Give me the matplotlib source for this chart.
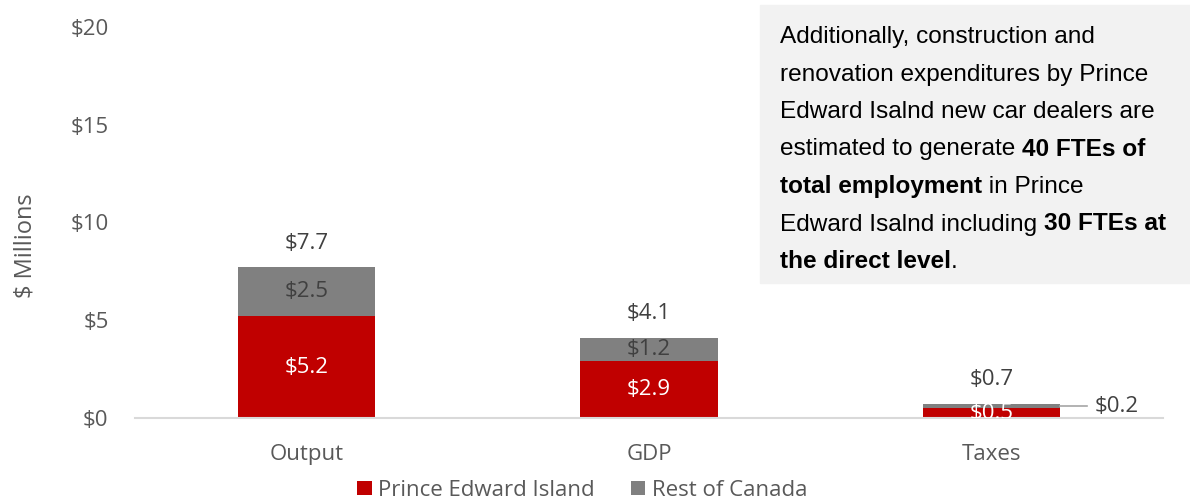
import matplotlib.pyplot as plt
import numpy as np

categories = ["Output", "GDP", "Taxes"]
pei = [5.2, 2.9, 0.5]
rest_of_canada = [2.5, 1.2, 0.2]
totals = [7.7, 4.1, 0.7]
yticks = [0, 5, 10, 15, 20]

RED = "#C00000"
GREY = "#808080"
TXT = "#595959"
FS = 16

plt.rcParams["font.family"] = ["Open Sans", "DejaVu Sans"]

W, H = 1190, 503
fig = plt.figure(figsize=(W / 100, H / 100), dpi=100)
ax = fig.add_axes([135 / W, 1 - 418 / H, 1028 / W, 391 / H])

x = np.arange(len(categories))
w = 0.4
ax.bar(x, pei, w, color=RED, label="Prince Edward Island", zorder=2)
ax.bar(x, rest_of_canada, w, bottom=pei, color=GREY, label="Rest of Canada", zorder=2)

ax.set_xlim(-0.5, 2.5)
ax.set_ylim(0, 20)
ax.set_yticks(yticks)
ax.set_yticklabels([f"${v}" for v in yticks])
ax.set_xticks(x)
ax.set_xticklabels(categories)
ax.tick_params(axis="both", length=0, labelsize=FS, labelcolor=TXT)
ax.tick_params(axis="x", pad=19)
ax.tick_params(axis="y", pad=19)
for s in ["top", "right", "left"]:
    ax.spines[s].set_visible(False)
ax.spines["bottom"].set_color("#D9D9D9")
ax.spines["bottom"].set_linewidth(1.5)

ax.set_ylabel("$ Millions", fontsize=17, color=TXT)
ax.yaxis.set_label_coords(-0.095, 0.44)

# value labels on the stacked segments
for i in range(len(categories)):
    t = ax.text(x[i], pei[i] / 2, f"${pei[i]}", ha="center", va="center",
                color="white", fontsize=FS, zorder=3)
    t.set_clip_on(True)
    if i < 2:
        ax.text(x[i], pei[i] + rest_of_canada[i] / 2, f"${rest_of_canada[i]}",
                ha="center", va="center", color="#404040", fontsize=FS, zorder=3)
    ax.annotate(f"${totals[i]}", (x[i], totals[i]), xytext=(0, 10),
                textcoords="offset points", ha="center", va="bottom",
                color="#404040", fontsize=FS)

# leader line for the small taxes segment
y_small = pei[2] + rest_of_canada[2] / 2
ax.plot([x[2] + w / 2, x[2] + 0.278], [y_small, y_small], color="#A6A6A6", lw=1.2,
        clip_on=False)
ax.text(x[2] + 0.300, y_small, f"${rest_of_canada[2]}", ha="left", va="center",
        color="#404040", fontsize=FS)

ax.legend(loc="center", bbox_to_anchor=(0.435, -0.185), ncol=2, frameon=False,
          fontsize=FS, labelcolor=TXT, handlelength=0.65, handleheight=0.65,
          handletextpad=0.3, columnspacing=1.6)

# call-out box
fig.patches.append(plt.Rectangle((760 / W, 1 - 283 / H), 430 / W, 278 / H,
                                 transform=fig.transFigure, color="#F2F2F2", zorder=0))

box_lines = [
    [("Additionally, construction and", "normal")],
    [("renovation expenditures by Prince", "normal")],
    [("Edward Isalnd new car dealers are", "normal")],
    [("estimated to generate ", "normal"), ("40 FTEs of", "bold")],
    [("total employment", "bold"), (" in Prince", "normal")],
    [("Edward Isalnd including ", "normal"), ("30 FTEs at", "bold")],
    [("the direct level", "bold"), (".", "normal")],
]
BOX_FS = 17.6
renderer = fig.canvas.get_renderer()
for k, line in enumerate(box_lines):
    yb = 1 - (43 + 37.5 * k) / H
    xpos = 780 / W
    for txt, wt in line:
        fig.text(xpos, yb, txt, ha="left", va="baseline", fontsize=BOX_FS,
                 fontweight=wt, color="black",
                 family=["Liberation Sans", "DejaVu Sans"])
        # measure with a placeholder so trailing spaces count
        bb = fig.text(0, 0, txt.replace(" ", "\u00a0"), fontsize=BOX_FS, fontweight=wt,
                      family=["Liberation Sans", "DejaVu Sans"])
        wpx = bb.get_window_extent(renderer).width
        bb.remove()
        xpos += wpx / W

fig.savefig("out.png", dpi=100)
